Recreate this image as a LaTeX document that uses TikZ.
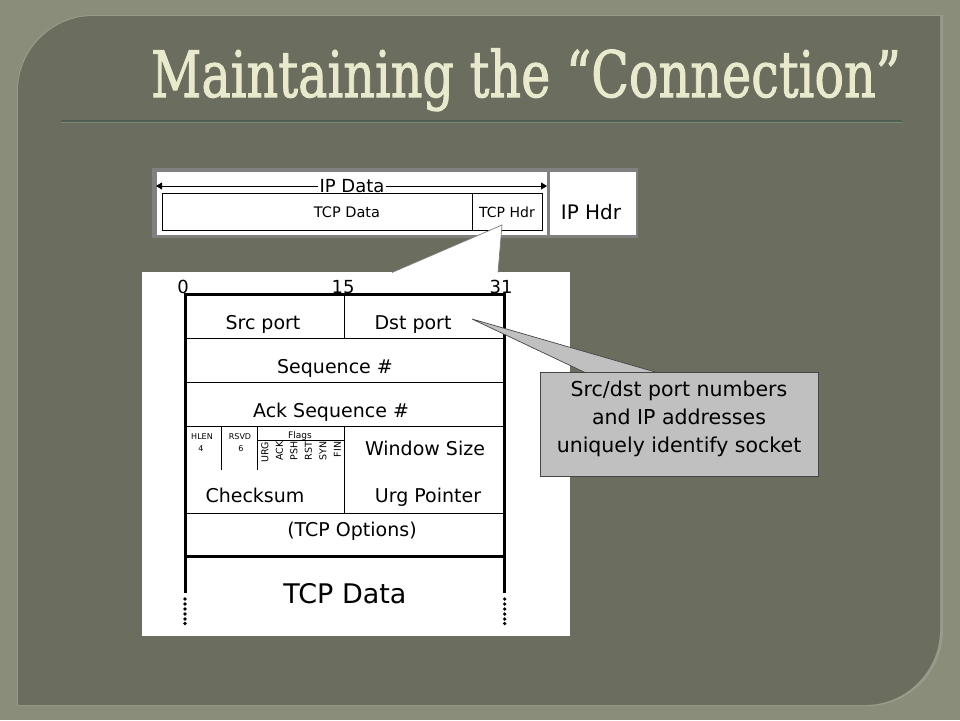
\documentclass[tikz,border=0pt]{standalone}
\usepackage{fontspec}
\setmainfont{DejaVu Sans}
\newfontfamily\titlefont[FakeBold=1.6]{DejaVu Serif}
\usetikzlibrary{arrows.meta}
\definecolor{outerbg}{RGB}{139,141,123}
\definecolor{panelbg}{RGB}{107,109,95}
\definecolor{paneledge}{RGB}{152,154,138}
\definecolor{titlecol}{RGB}{233,233,205}
\definecolor{rulecol}{RGB}{78,96,84}
\definecolor{rulelight}{RGB}{130,134,118}
\definecolor{framegray}{RGB}{128,128,128}
\definecolor{calloutgray}{RGB}{192,192,192}
\definecolor{calloutedge}{RGB}{70,70,70}
\definecolor{wedgeedge}{RGB}{120,120,120}
\newcommand{\fsz}[1]{\fontsize{#1}{#1}\selectfont}
\begin{document}
\begin{tikzpicture}[x=1pt,y=-1pt,
  thickline/.style={line width=3pt},
  thinline/.style={line width=0.9pt},
  lbl/.style={inner sep=0pt, anchor=base, font=\fsz{19}},
  tiny/.style={inner sep=0pt, anchor=base, font=\fsz{8}},
  flaglbl/.style={inner sep=0pt, anchor=east, rotate=90, font=\fsz{9.5}}
]
\useasboundingbox (0,0) rectangle (960,720);
\fill[outerbg] (0,0) rectangle (960,720);
% panel
\fill[paneledge] (17,706) -- (17,91) .. controls (17,49) and (51,15) .. (93,15) -- (943,15) -- (943,630) .. controls (943,672) and (909,706) .. (867,706) -- cycle;
\fill[panelbg] (18,705) -- (18,91) .. controls (18,50) and (52,16) .. (93,16) -- (940,16) -- (940,630) .. controls (940,671) and (906,705) .. (865,705) -- cycle;
% title
\node[inner sep=0pt, anchor=base, text=titlecol, xscale=0.77,
      font=\titlefont\fsz{64}] (title) at (526,97) {Maintaining the “Connection”};
\draw[rulecol, line width=2pt] (61,121) -- (902,121);
\draw[rulelight, line width=0.8pt] (61,122.8) -- (902,122.8);

% ---- IP box ----
\fill[framegray] (152,168) rectangle (638,238);
\fill[white] (157,172) rectangle (547,234.5);
\fill[white] (550,172) rectangle (636,234.5);
\coordinate (ipL) at (156,186);
\coordinate (ipR) at (547,186);
\draw[line width=0.8pt, {Triangle[length=6pt,width=7pt]}-{Triangle[length=6pt,width=7pt]}] (ipL) -- (ipR);
\node[inner sep=2pt, anchor=base, fill=white, font=\fsz{18}] (ipdata) at (352,192) {IP Data};
\draw[thinline] (162,193) rectangle (542,230);
\draw[thinline] (472,193) -- (472,230);
\node[inner sep=0pt, anchor=base, font=\fsz{14.5}] (tcpdatasmall) at (347,217) {TCP Data};
\node[inner sep=0pt, anchor=base, font=\fsz{14}] (tcphdr) at (507,217) {TCP Hdr};
\node[inner sep=0pt, anchor=base, font=\fsz{20}] (iphdr) at (591,219) {IP Hdr};

% ---- TCP header panel ----
\fill[white] (142,272) rectangle (570,636);
% zoom wedge
\fill[white] (502,225) -- (392,272.5) -- (498,272.5) -- cycle;
\draw[wedgeedge, line width=0.7pt] (392,272.5) -- (502,225) -- (498,272.5);

% numbers
\node[inner sep=0pt, anchor=base, font=\fsz{18}] (n0) at (183,293) {0};
\node[inner sep=0pt, anchor=base, font=\fsz{18}] (n15) at (343,293) {15};
\node[inner sep=0pt, anchor=base, font=\fsz{18}] (n31) at (501,293) {31};

% thin lines
\draw[thinline] (185,338.3) -- (505,338.3);
\draw[thinline] (185,382.3) -- (505,382.3);
\draw[thinline] (185,426.3) -- (505,426.3);
\draw[thinline] (185,513) -- (505,513);
\draw[thinline] (344,294) -- (344,338.3);
\draw[thinline] (344,426.3) -- (344,513);
\draw[thinline] (221,426.3) -- (221,470);
\draw[thinline] (257,426.3) -- (257,470);
\draw[thinline] (257,440) -- (344,440);
% thick frame
\draw[thickline, line join=miter] (185,593) -- (185,294.3) -- (504.7,294.3) -- (504.7,593);
\draw[thickline] (185,556.5) -- (504.7,556.5);
% dotted continuation
\foreach \yy in {599,604,609,614,619,623.5}{
  \fill (185,\yy) circle[radius=1.8pt];
  \fill (504.7,\yy) circle[radius=1.8pt];
}

% field labels
\node[lbl] (srcport) at (263,329) {Src port};
\node[lbl] (dstport) at (413,329) {Dst port};
\node[lbl] (seq) at (335,373) {Sequence \#};
\node[lbl] (ack) at (331,417) {Ack Sequence \#};
\node[tiny] (hlen) at (202,439) {HLEN};
\node[tiny] (hlenv) at (201,451) {4};
\node[tiny] (rsvd) at (240,439) {RSVD};
\node[tiny] (rsvdv) at (241,451) {6};
\node[inner sep=0pt, anchor=base, font=\fsz{9}] (flags) at (300,438.5) {Flags};
\node[flaglbl] (urg) at (265,441.5) {URG};
\node[flaglbl] (ackf) at (279.5,441.5) {ACK};
\node[flaglbl] (psh) at (294,441.5) {PSH};
\node[flaglbl] (rst) at (308.5,441.5) {RST};
\node[flaglbl] (syn) at (323,441.5) {SYN};
\node[flaglbl] (fin) at (337.5,441.5) {FIN};
\node[lbl] (win) at (425,455) {Window Size};
\node[lbl] (cks) at (255,502) {Checksum};
\node[lbl] (urgp) at (428,502) {Urg Pointer};
\node[lbl] (opts) at (352,536) {(TCP Options)};
\node[inner sep=0pt, anchor=base, font=\fsz{27}] (tcpdata) at (345,603) {TCP Data};

% ---- callout ----
\fill[calloutgray] (472,319) -- (585,372.5) -- (657,372.5) -- cycle;
\draw[calloutedge, line width=0.7pt] (585,372.5) -- (472,319) -- (657,372.5);
\node[draw=calloutedge, line width=0.8pt, fill=calloutgray, minimum width=278pt, minimum height=104pt,
      anchor=north west, inner sep=0pt] (note) at (540,372) {};
\node[inner sep=0pt, anchor=base, font=\fsz{20.5}] (note1) at (679,396) {Src/dst port numbers};
\node[inner sep=0pt, anchor=base, font=\fsz{20.5}] (note2) at (679,424) {and IP addresses};
\node[inner sep=0pt, anchor=base, font=\fsz{20.5}] (note3) at (679,452) {uniquely identify socket};
\end{tikzpicture}
\end{document}
